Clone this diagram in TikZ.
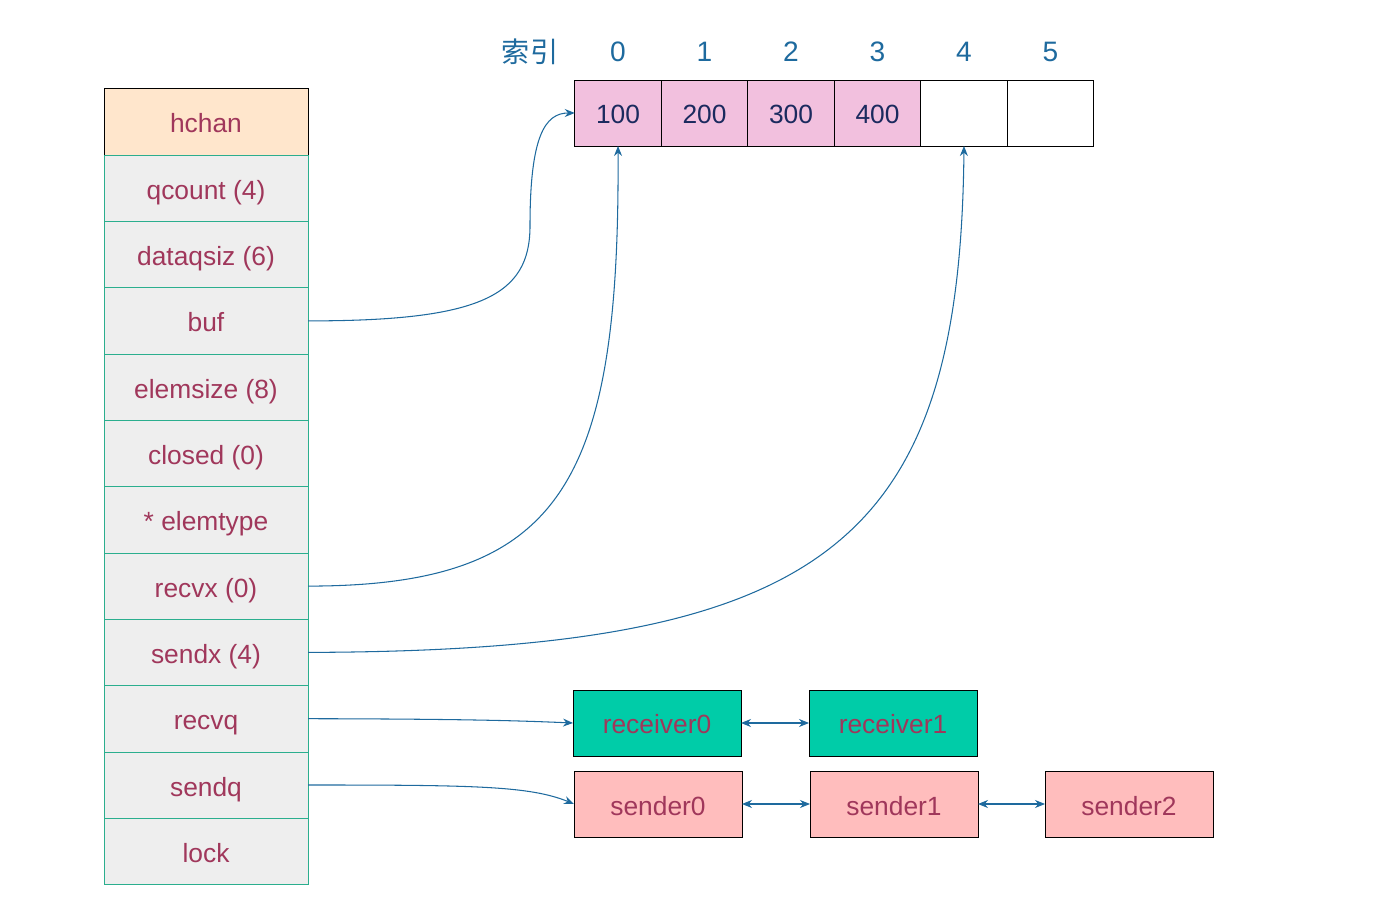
\documentclass[tikz,border=0pt]{standalone}
\usepackage{fontspec}
\setmainfont{Liberation Sans}
\newfontfamily\cjk{Noto Sans CJK SC}
\usetikzlibrary{arrows.meta, positioning, calc}

\definecolor{fieldtext}{HTML}{A0375B}
\definecolor{fieldline}{HTML}{2BAE8E}
\definecolor{fieldfill}{HTML}{EEEEEE}
\definecolor{headfill}{HTML}{FFE6CC}
\definecolor{cellfill}{HTML}{F2C0DE}
\definecolor{celltext}{HTML}{1B2A5E}
\definecolor{idxblue}{HTML}{1E6A9E}
\definecolor{recvfill}{HTML}{00CCA8}
\definecolor{sendfill}{HTML}{FFBDBD}

\begin{document}
\begin{tikzpicture}[
    node distance=0cm,
    every node/.style={font=\fontsize{15}{17}\selectfont, align=center, outer sep=0pt},
    boxtext/.style={text height=0.54cm, text depth=0.1cm},
    field/.style={rectangle, boxtext, draw=fieldline, fill=fieldfill, text=fieldtext, minimum width=4.08cm, minimum height=1.326cm},
    head/.style={field, draw=black, fill=headfill},
    cell/.style={rectangle, boxtext, draw, fill=cellfill, text=celltext, minimum width=1.73cm, minimum height=1.32cm},
    idx/.style={text=idxblue, font=\fontsize{16}{18}\selectfont},
    qbox/.style={rectangle, boxtext, draw, text=fieldtext, minimum width=3.36cm, minimum height=1.32cm},
    arrow/.style={-{Stealth[length=2mm, width=1.6mm]}, idxblue, semithick},
    link/.style={{Stealth[length=2mm, width=1.6mm]}-{Stealth[length=2mm, width=1.6mm]}, idxblue, semithick}
]
    \useasboundingbox (0,0) rectangle (27.76,18.12);

    % hchan struct
    \node[head] (hchan) at (4.12,15.68) {hchan};
    \node[field, below=of hchan] (qcount) {qcount (4)};
    \node[field, below=of qcount] (dataqsiz) {dataqsiz (6)};
    \node[field, below=of dataqsiz] (buf) {buf};
    \node[field, below=of buf] (elemsize) {elemsize (8)};
    \node[field, below=of elemsize] (closed) {closed (0)};
    \node[field, below=of closed] (elemtype) {* elemtype};
    \node[field, below=of elemtype] (recvx) {recvx (0)};
    \node[field, below=of recvx] (sendx) {sendx (4)};
    \node[field, below=of sendx] (recvq) {recvq};
    \node[field, below=of recvq] (sendq) {sendq};
    \node[field, below=of sendq] (lock) {lock};

    % ring buffer
    \node[cell] (c0) at (12.36,15.86) {100};
    \node[cell, right=of c0] (c1) {200};
    \node[cell, right=of c1] (c2) {300};
    \node[cell, right=of c2] (c3) {400};
    \node[cell, right=of c3, fill=white] (c4) {};
    \node[cell, right=of c4, fill=white] (c5) {};
    \foreach \i in {0,...,5}
        \node[idx] (i\i) at ([yshift=0.56cm]c\i.north) {\i};
    \node[idx] (idxlabel) at (10.6,17.08) {\cjk 索引};

    % wait queues
    \node[qbox, fill=recvfill] (r0) at (13.14,3.66) {receiver0};
    \node[qbox, fill=recvfill, right=1.36cm of r0] (r1) {receiver1};
    \node[qbox, fill=sendfill] (s0) at (13.16,2.04) {sender0};
    \node[qbox, fill=sendfill, right=1.36cm of s0] (s1) {sender1};
    \node[qbox, fill=sendfill, right=1.34cm of s1] (s2) {sender2};

    \draw[arrow] (buf.east) .. controls (9.6,11.7) and (10.6,12.2) .. (10.6,13.6) .. controls (10.6,15.4) and (10.9,15.86) .. (c0.west);
    \draw[arrow] (recvx.east) .. controls (11.2,6.4) and (12.4,8.4) .. (c0.south);
    \draw[arrow] (sendx.east) .. controls (16.5,5.1) and (19.2,7.2) .. (c4.south);
    \draw[arrow] (recvq.east) .. controls (9.5,3.74) and (10.5,3.7) .. (r0.west);
    \draw[arrow] (sendq.east) .. controls (9.5,2.42) and (10.6,2.4) .. (s0.west);
    \draw[link] (r0) -- (r1);
    \draw[link] (s0) -- (s1);
    \draw[link] (s1) -- (s2);
\end{tikzpicture}
\end{document}
